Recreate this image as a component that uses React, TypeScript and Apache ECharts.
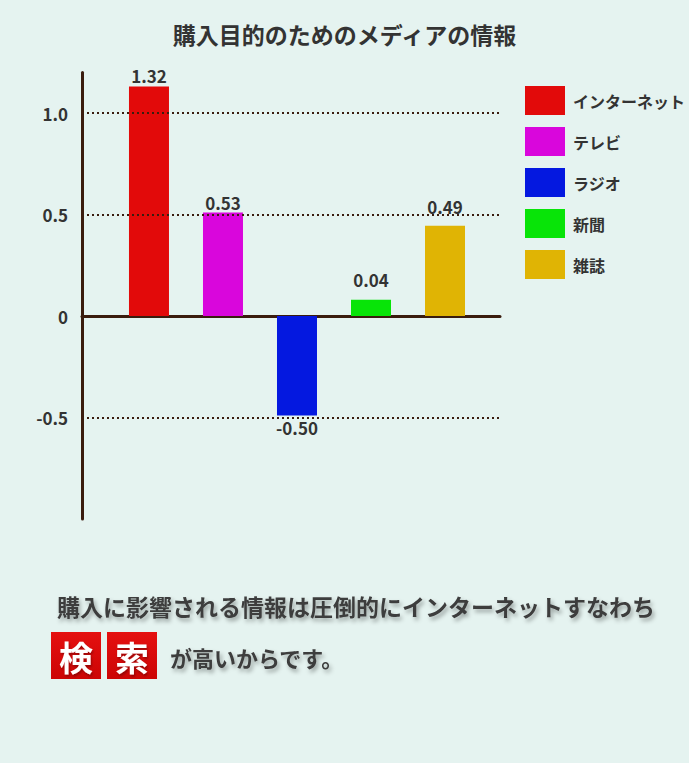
import React, { useEffect, useRef } from "react";
import * as echarts from "echarts";

const categories = ["インターネット", "テレビ", "ラジオ", "新聞", "雑誌"];
const labelValues = [1.32, 0.53, -0.5, 0.04, 0.49];
const barHeights = [1.13, 0.51, -0.49, 0.08, 0.445];
const colors = ["#e20a0a", "#d906dc", "#0418e0", "#08e408", "#e0b404"];
const gridValues = [1.0, 0.5, -0.5];
const headline = "購入に影響される情報は圧倒的にインターネットすなわち";
const boxWords = ["検", "索"];
const tailText = "が高いからです。";

const LABEL_GAPS = [3, 1, 4, 12, 11];
const FONT = '"Noto Sans CJK JP", "Noto Sans", sans-serif';
const DARK = "#333333";
const AXIS = "#3a1c0e";

export default function App() {
  const ref = useRef<HTMLDivElement>(null);
  useEffect(() => {
    if (!ref.current) return;
    const chart = echarts.init(ref.current, null, { renderer: "svg" });
    const barSeries = categories.map((name, i) => ({
      name,
      type: "bar",
      stack: "all",
      barWidth: 40,
      z: 3,
      itemStyle: { color: colors[i] },
      label: {
        show: true,
        position: labelValues[i] < 0 ? "bottom" : "top",
        distance: LABEL_GAPS[i],
        fontFamily: FONT,
        fontWeight: "bold",
        fontSize: 17,
        color: DARK,
        formatter: () => labelValues[i].toFixed(2),
      },
      data: [[i, barHeights[i]]],
    }));
    const shadow = {
      textShadowColor: "rgba(0,0,0,0.35)",
      textShadowBlur: 4,
      textShadowOffsetX: 2,
      textShadowOffsetY: 3,
    };
    chart.setOption({
      animation: false,
      backgroundColor: "#e5f3f0",
      title: {
        text: "購入目的のためのメディアの情報",
        left: "center",
        top: 17,
        textStyle: { fontFamily: FONT, fontWeight: "bold", fontSize: 23, color: DARK },
      },
      legend: {
        orient: "vertical",
        left: 525,
        top: 86,
        padding: 0,
        itemWidth: 40,
        itemHeight: 29,
        itemGap: 12,
        icon: "rect",
        data: categories,
        textStyle: { fontFamily: FONT, fontWeight: "bold", fontSize: 16, color: DARK, padding: [0, 0, 0, 3] },
      },
      grid: { left: 82, right: 189, top: 72.4, bottom: 244 },
      xAxis: {
        type: "value",
        min: -0.905,
        max: 4.743,
        axisLine: { show: true, onZero: true, lineStyle: { color: AXIS, width: 3 } },
        axisTick: { show: false },
        axisLabel: { show: false },
        splitLine: { show: false },
      },
      yAxis: {
        type: "value",
        min: -1,
        max: 1.2,
        interval: 0.5,
        axisLine: { show: true, onZero: false, lineStyle: { color: AXIS, width: 3 } },
        axisTick: { show: false },
        splitLine: { show: false },
        axisLabel: {
          margin: 14,
          fontFamily: FONT,
          fontWeight: "bold",
          fontSize: 17,
          color: DARK,
          formatter: (v: number) => {
            if (v < -0.75 || v > 1.05) return "";
            if (Math.abs(v) < 1e-9) return "0";
            return v.toFixed(1);
          },
        },
      },
      series: [
        {
          type: "line",
          data: [],
          z: 1,
          silent: true,
          markLine: {
            silent: true,
            symbol: "none",
            label: { show: false },
            lineStyle: { color: AXIS, width: 2, type: [2, 3] },
            data: gridValues.map((v) => ({ yAxis: v })),
          },
        },
        ...barSeries,
      ],
      graphic: [
        {
          type: "text",
          left: 57,
          top: 594,
          style: { text: headline, fontFamily: FONT, fontWeight: "bold", fontSize: 23, fill: "#3c3c3c", ...shadow },
        },
        ...boxWords.flatMap((w, i) => [
          {
            type: "rect",
            shape: { x: 51 + i * 56, y: 632, width: 50, height: 47 },
            style: {
              fill: new echarts.graphic.LinearGradient(0, 0, 0, 1, [
                { offset: 0, color: "#e51010" },
                { offset: 1, color: "#cc0505" },
              ]),
            },
          },
          {
            type: "text",
            x: 76 + i * 56,
            y: 656,
            style: {
              text: w,
              fontFamily: FONT,
              fontWeight: "bold",
              fontSize: 34,
              fill: "#ffffff",
              align: "center",
              verticalAlign: "middle",
              textShadowColor: "rgba(0,0,0,0.3)",
              textShadowBlur: 2,
              textShadowOffsetX: 1,
              textShadowOffsetY: 2,
            },
          },
        ]),
        {
          type: "text",
          left: 170,
          top: 646,
          style: { text: tailText, fontFamily: FONT, fontWeight: "bold", fontSize: 22, fill: "#3c3c3c", ...shadow },
        },
      ],
    });
    return () => chart.dispose();
  }, []);
  return (
    <div
      ref={ref}
      style={{ position: "absolute", left: 0, top: 0, width: 689, height: 763 }}
    />
  );
}
